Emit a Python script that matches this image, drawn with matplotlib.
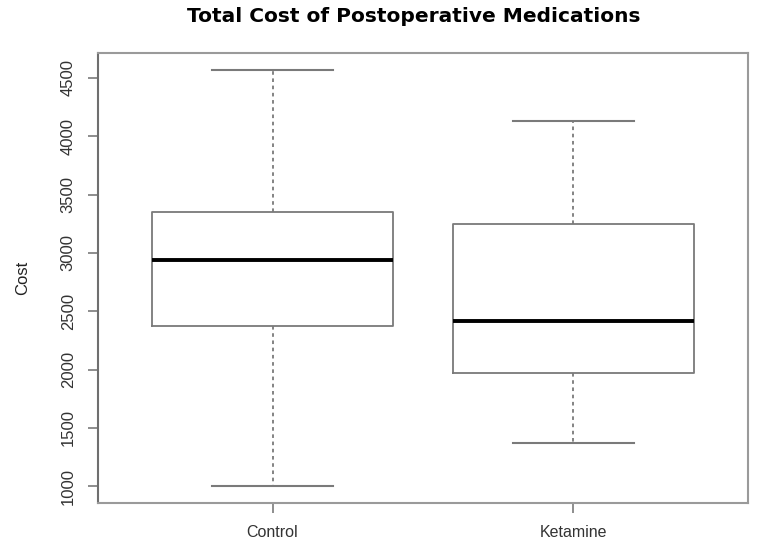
import matplotlib
matplotlib.use('Agg')
import matplotlib.pyplot as plt

plt.rcParams['font.family'] = ['Liberation Sans', 'DejaVu Sans']

groups = ['Control', 'Ketamine']
whisk_lo = [1000, 1375]
q1 = [2375, 1970]
med = [2940, 2420]
q3 = [3350, 3250]
whisk_hi = [4570, 4130]
yticks = [1000, 1500, 2000, 2500, 3000, 3500, 4000, 4500]

stats = []
for i in range(len(groups)):
    stats.append({'label': groups[i], 'whislo': whisk_lo[i], 'q1': q1[i],
                  'med': med[i], 'q3': q3[i], 'whishi': whisk_hi[i], 'fliers': []})

fig = plt.figure(figsize=(7.6, 5.4), dpi=100)
ax = fig.add_axes([98/760, 37/540, 650/760, 450/540])

gray = '#7a7a7a'
ax.bxp(stats, positions=[1, 2], widths=0.8, showfliers=False,
       boxprops=dict(color=gray, linewidth=1.3),
       whiskerprops=dict(color=gray, linewidth=1.3, linestyle=(0, (2, 2))),
       capprops=dict(color=gray, linewidth=1.5),
       medianprops=dict(color='black', linewidth=2.8))

# R style: 4% padding on the data range
lo, hi = min(whisk_lo), max(whisk_hi)
pad = 0.04 * (hi - lo)
ax.set_ylim(lo - pad, hi + pad)
ax.set_xlim(0.42, 2.58)
ax.set_yticks(yticks)
ax.set_yticklabels([str(t) for t in yticks], rotation=90, va='center', fontsize=12, color='#333333')
ax.set_xticks([1, 2])
ax.set_xticklabels(groups, fontsize=11.5, color='#333333')
ax.tick_params(axis='both', length=7, width=1.2, color=gray, pad=9)

for s in ax.spines.values():
    s.set_color('#9a9a9a')
    s.set_linewidth(1.5)
ax.spines['left'].set_color('#6f6f6f')

ax.set_ylabel('Cost', fontsize=12, color='#222222', labelpad=22)
fig.suptitle('Total Cost of Postoperative Medications', x=414 / 760,
             y=1 - 16/540, va='center', fontsize=14.5, fontweight='bold',
             family='DejaVu Sans')

fig.savefig('out.png', dpi=100)
